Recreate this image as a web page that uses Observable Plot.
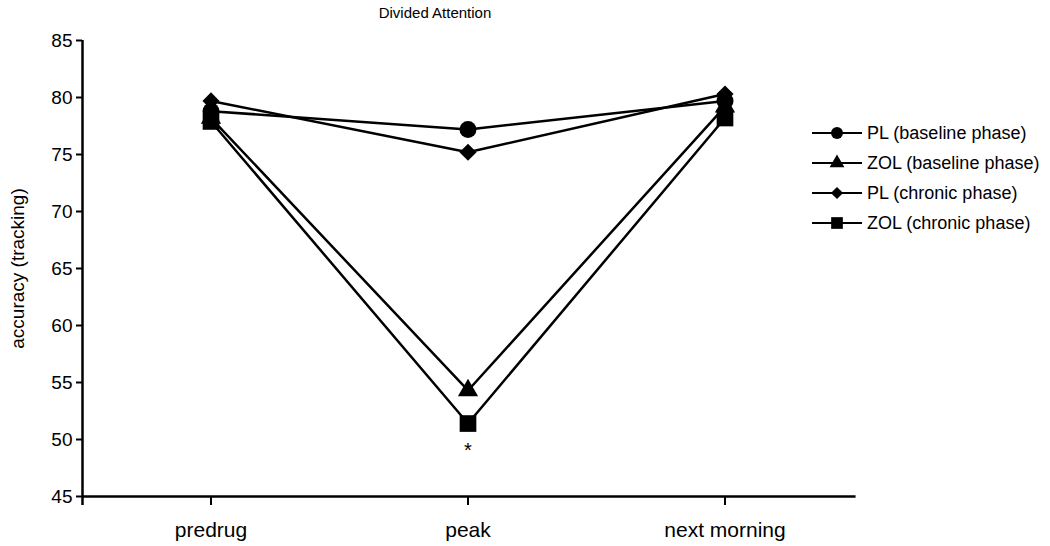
<!DOCTYPE html>
<html>
<head>
<meta charset="utf-8">
<script src="https://cdn.jsdelivr.net/npm/d3@7"></script>
<script src="https://cdn.jsdelivr.net/npm/@observablehq/plot@0.6"></script>
<style>
  html, body { margin: 0; padding: 0; background: #fff; }
  #wrap { position: relative; width: 1050px; height: 546px; font-family: "Liberation Sans", Arial, sans-serif; color: #000; }
  #title { position: absolute; left: 0; width: 870px; top: 1px; text-align: center; font-size: 15px; line-height: 24px; }
  #chart { position: absolute; left: 0; top: 0; }
  #legend { position: absolute; left: 812px; top: 118px; }
  .row { display: flex; align-items: center; height: 30px; font-size: 18px; white-space: nowrap; }
  .row svg { margin-right: 5px; }
</style>
</head>
<body>
<div id="wrap">
  <div id="chart"></div>
  <div id="title">Divided Attention</div>
  <div id="legend"></div>
</div>
<script>
// ---- data ----
const categories = ["predrug", "peak", "next morning"];
const seriesNames = ["PL (baseline phase)", "ZOL (baseline phase)", "PL (chronic phase)", "ZOL (chronic phase)"];
const plBaseline  = [78.8, 77.2, 79.7];
const zolBaseline = [78.2, 54.3, 79.2];
const plChronic   = [79.7, 75.2, 80.3];
const zolChronic  = [77.9, 51.4, 78.2];
const yTicks = [45, 50, 55, 60, 65, 70, 75, 80, 85];
const yLabel = "accuracy (tracking)";
const significance = [{category: "peak", series: "ZOL (chronic phase)", label: "*"}];

// ---- styling ----
const symbols = ["circle", "triangle", "diamond2", "square"];
const markerR = [8.5, 7.5, 7.7, 9.4];
const legendR = [6, 5.5, 5.5, 6.6];

const seriesValues = [plBaseline, zolBaseline, plChronic, zolChronic];
const rows = [];
seriesNames.forEach((s, si) => {
  categories.forEach((c, ci) => {
    rows.push({series: s, i: ci, value: seriesValues[si][ci], r: markerR[si]});
  });
});
const dotOrder = ["PL (baseline phase)", "ZOL (baseline phase)", "ZOL (chronic phase)", "PL (chronic phase)"];
const dotRows = dotOrder.flatMap(s => rows.filter(d => d.series === s));
const sigRows = significance.map(a => {
  const si = seriesNames.indexOf(a.series), ci = categories.indexOf(a.category);
  return {i: ci, value: seriesValues[si][ci], label: a.label};
});

const plot = Plot.plot({
  width: 1050,
  height: 546,
  marginLeft: 82,
  marginRight: 197,
  marginTop: 40,
  marginBottom: 50,
  style: {fontFamily: "'Liberation Sans', Arial, sans-serif", color: "#000", background: "#fff"},
  x: {type: "linear", domain: [-0.5, 2.5]},
  y: {domain: [45, 85]},
  symbol: {domain: seriesNames, range: symbols},
  r: {type: "identity"},
  marks: [
    Plot.ruleX([-0.5], {y1: 44.2, y2: 85, stroke: "#000", strokeWidth: 2.5}),
    Plot.ruleY([45], {x1: -0.5, x2: 2.51, stroke: "#000", strokeWidth: 2.5}),
    Plot.axisY({ticks: yTicks, tickSize: 6, tickPadding: 4, tickFormat: d => String(d), fontSize: 19, strokeWidth: 2,
      label: yLabel, labelAnchor: "center", labelOffset: 72, labelArrow: "none", fill: "#000"}),
    Plot.axisX({ticks: [0, 1, 2], tickFormat: i => categories[i], tickSize: 9, tickPadding: 17, fontSize: 21, strokeWidth: 2, label: null}),
    Plot.line(rows, {x: "i", y: "value", z: "series", stroke: "#000", strokeWidth: 2.5}),
    Plot.dot(dotRows, {x: "i", y: "value", symbol: "series", r: "r", fill: "#000", stroke: "none"}),
    Plot.text(sigRows, {x: "i", y: "value", text: "label", dy: 27, fontSize: 20})
  ]
});
document.getElementById("chart").appendChild(plot);

// legend
const legend = document.getElementById("legend");
const symMap = {circle: d3.symbolCircle, triangle: d3.symbolTriangle, diamond2: d3.symbolDiamond2, square: d3.symbolSquare};
seriesNames.forEach((s, si) => {
  const row = document.createElement("div");
  row.className = "row";
  const svg = d3.create("svg").attr("width", 50).attr("height", 20);
  svg.append("line").attr("x1", 0).attr("x2", 50).attr("y1", 10).attr("y2", 10).attr("stroke", "#000").attr("stroke-width", 2);
  svg.append("path").attr("transform", "translate(25,10)")
    .attr("d", d3.symbol(symMap[symbols[si]], Math.PI * legendR[si] * legendR[si])())
    .attr("fill", "#000");
  row.appendChild(svg.node());
  const span = document.createElement("span");
  span.textContent = s;
  row.appendChild(span);
  legend.appendChild(row);
});
</script>
</body>
</html>
